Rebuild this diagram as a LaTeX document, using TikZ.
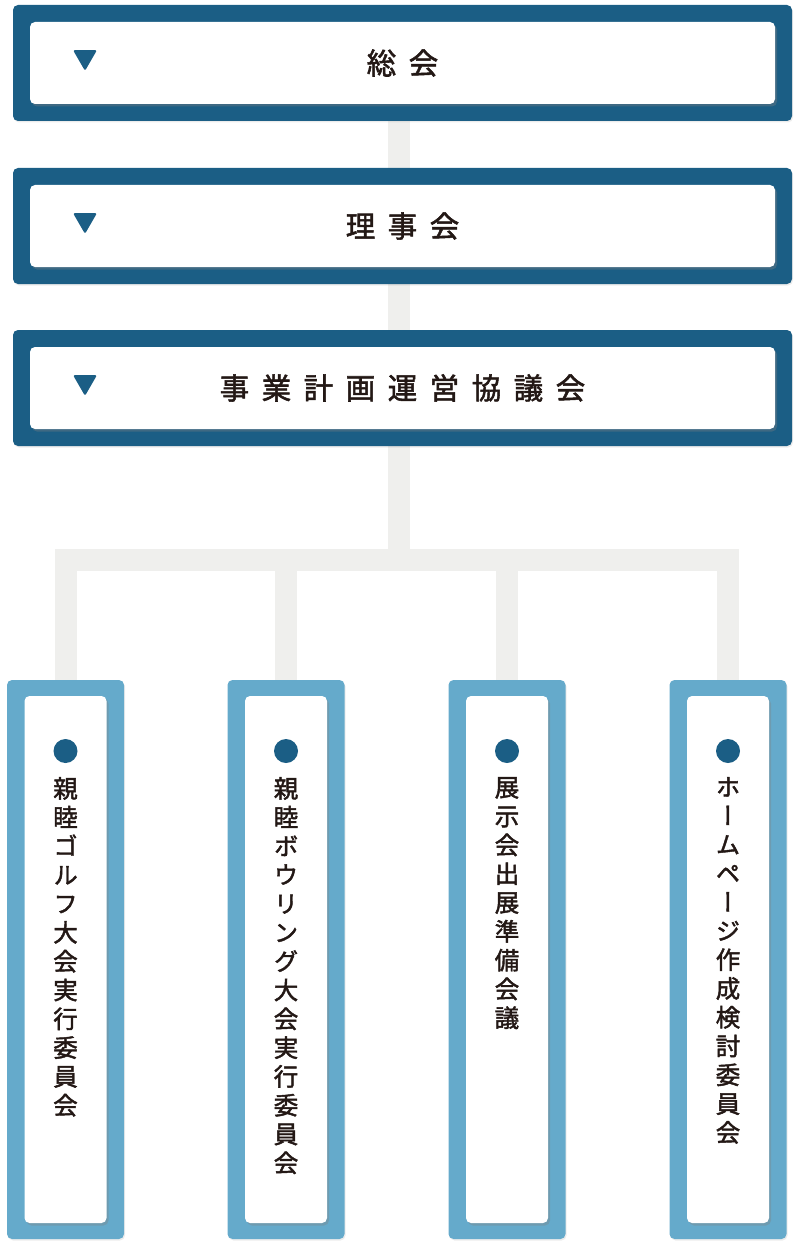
\documentclass[tikz,border=0pt]{standalone}
\usepackage{fontspec}
\usetikzlibrary{shapes.geometric,shadows,backgrounds}
\newfontfamily\jp[FakeBold=1.8]{Noto Sans CJK JP}
\newfontfamily\jptate[FakeBold=1.8,RawFeature=+vert]{Noto Sans CJK JP}
\definecolor{navy}{HTML}{1B5E85}
\definecolor{sky}{HTML}{65AACB}
\definecolor{linkgray}{HTML}{EFEFED}
\definecolor{ink}{HTML}{231815}
\newcommand\yoko[1]{\foreach \c [count=\i] in {#1}{\ifnum\i>1\hspace{12.5pt}\fi\c}}

\begin{document}
\begin{tikzpicture}[x=1pt,y=-1pt,
  frame/.style={fill=navy,rounded corners=5pt,minimum width=779pt,minimum height=116pt,outer sep=0pt,
    drop shadow={shadow xshift=1pt,shadow yshift=-1.5pt,opacity=0.15}},
  panel/.style={fill=white,rounded corners=5pt,minimum width=745pt,minimum height=82pt,outer sep=0pt,
    text=ink,font=\jp\fontsize{29.5}{29.5}\selectfont,
    drop shadow={shadow xshift=2pt,shadow yshift=-2.5pt,opacity=0.35}},
  marker/.style={regular polygon,regular polygon sides=3,shape border rotate=180,fill=navy,
    minimum size=27.7pt,inner sep=0pt,rounded corners=2pt},
  framev/.style={fill=sky,rounded corners=5pt,minimum width=117pt,minimum height=559pt,outer sep=0pt,
    drop shadow={shadow xshift=1pt,shadow yshift=-1.5pt,opacity=0.15}},
  panelv/.style={fill=white,rounded corners=5pt,minimum width=82pt,minimum height=527pt,outer sep=0pt,
    drop shadow={shadow xshift=2pt,shadow yshift=-2.5pt,opacity=0.35}},
  dot/.style={circle,fill=navy,minimum size=24pt,inner sep=0pt},
  tate/.style={anchor=north,align=center,inner sep=0pt,text=ink,font=\jptate\fontsize{24.5}{28.8}\selectfont},
  link/.style={draw=linkgray,line width=22pt}]
  \useasboundingbox (0,0) rectangle (799,1249);

  \node [frame] (soukai) at (402.5,63) {};
  \node [panel] (soukai-in) at (soukai) {\yoko{総,会}};
  \node [marker] at ([xshift=55pt,yshift=6pt]soukai-in.west) {};

  \node [frame] (riji) at (402.5,226) {};
  \node [panel] (riji-in) at (riji) {\yoko{理,事,会}};
  \node [marker] at ([xshift=55pt,yshift=6pt]riji-in.west) {};

  \node [frame] (jigyo) at (402.5,388) {};
  \node [panel] (jigyo-in) at (jigyo) {\yoko{事,業,計,画,運,営,協,議,会}};
  \node [marker] at ([xshift=55pt,yshift=6pt]jigyo-in.west) {};

  \node [framev] (golf) at (65.5,959.5) {};
  \node [panelv] (golf-in) at (golf) {};
  \node [dot] at (65.5,751) {};
  \node [tate] at (65.5,777) {親\\睦\\ゴ\\ル\\フ\\大\\会\\実\\行\\委\\員\\会};

  \node [framev] (bowling) at (286,959.5) {};
  \node [panelv] (bowling-in) at (bowling) {};
  \node [dot] at (286,751) {};
  \node [tate] at (286,777) {親\\睦\\ボ\\ウ\\リ\\ン\\グ\\大\\会\\実\\行\\委\\員\\会};

  \node [framev] (tenji) at (507,959.5) {};
  \node [panelv] (tenji-in) at (tenji) {};
  \node [dot] at (507,751) {};
  \node [tate] at (507,777) {展\\示\\会\\出\\展\\準\\備\\会\\議};

  \node [framev] (web) at (728,959.5) {};
  \node [panelv] (web-in) at (web) {};
  \node [dot] at (728,751) {};
  \node [tate] at (728,777) {ホ\\ー\\ム\\ペ\\ー\\ジ\\作\\成\\検\\討\\委\\員\\会};

  \coordinate (bus) at (399,560);
  \begin{pgfonlayer}{background}
    \draw [link] (soukai -| bus) -- (riji -| bus);
    \draw [link] (riji -| bus) -- (jigyo -| bus);
    \draw [link] (jigyo -| bus) -- (bus);
    \draw [link] (golf) |- (bus) -| (web);
    \draw [link] (bus -| bowling) -- (bowling);
    \draw [link] (bus -| tenji) -- (tenji);
  \end{pgfonlayer}
\end{tikzpicture}
\end{document}
